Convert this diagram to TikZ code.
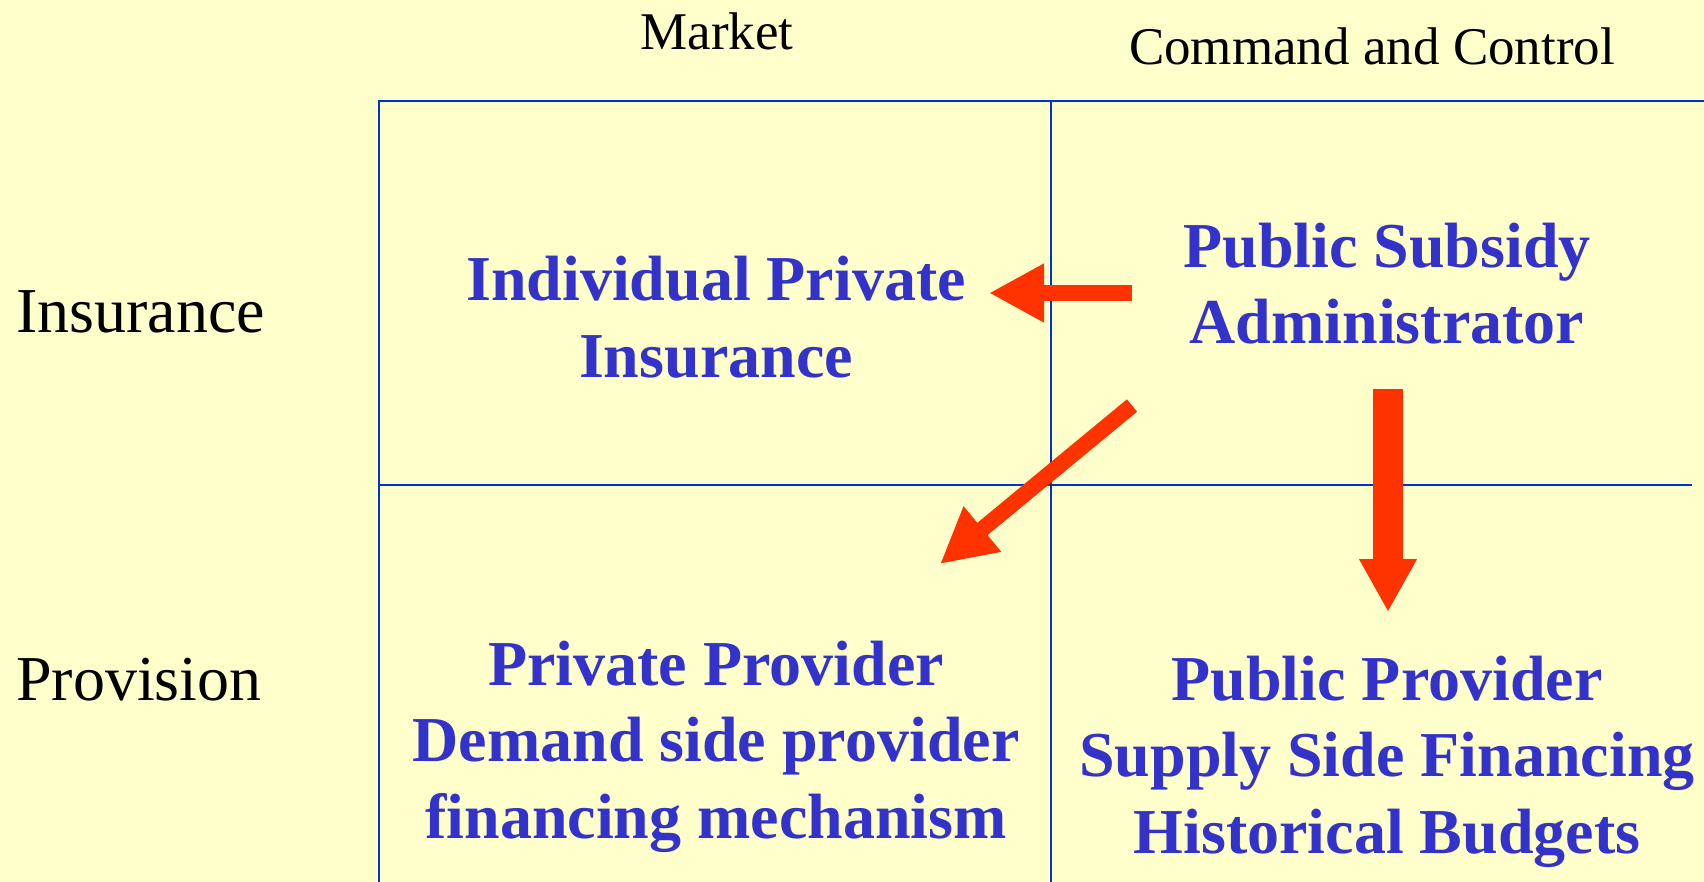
\documentclass[tikz,border=0pt]{standalone}
\usepackage{fontspec}
\setmainfont{Liberation Serif}
\usetikzlibrary{arrows.meta}
\definecolor{paper}{HTML}{FFFFCC}
\definecolor{gridblue}{HTML}{0033CC}
\definecolor{cellblue}{HTML}{3333CC}
\definecolor{arrowred}{HTML}{FF3300}
\begin{document}
\begin{tikzpicture}[x=1pt,y=-1pt,
  gridline/.style={draw=gridblue,line width=2.8pt},
  header/.style={font=\fontsize{53}{63}\selectfont,inner sep=0pt,anchor=base},
  rowlabel/.style={font=\fontsize{64}{76}\selectfont,inner sep=0pt,anchor=base west},
  cell/.style={font=\fontsize{64}{76.5}\selectfont\bfseries,text=cellblue,
    align=center,inner sep=0pt,anchor=base},
  flow/.style={draw=arrowred,line width=#1,
    -{Triangle[length=55pt,width=55pt,fill=arrowred]}},
]
\useasboundingbox (0,0) rectangle (1704,882);
\fill[paper] (0,0) rectangle (1704,882);

% matrix frame
\draw[gridline] (379,882) -- (379,101) -- (1704,101);
\draw[gridline] (1051,101) -- (1051,882);
\draw[gridline] (379,485) -- (1692,485);

% column and row headings
\node[header] (market) at (717,50) {Market};
\node[header] (command) at (1372,65) {Command and Control};
\node[rowlabel] (insurance) at (16,332) {Insurance};
\node[rowlabel] (provision) at (16,700) {Provision};

% cell contents (base anchor sits on the last line)
\node[cell] (indiv) at (716,377) {Individual Private\\Insurance};
\node[cell] (subsidy) at (1387,344) {Public Subsidy\\Administrator};
\node[cell] (privprov) at (716,838) {Private Provider\\Demand side provider\\financing mechanism};
\node[cell] (pubprov) at (1387,853) {Public Provider\\Supply Side Financing\\Historical Budgets};

% arrow end points
\coordinate (left-s) at (1132,293);
\coordinate (left-e) at (989,293);
\coordinate (diag-s) at (1132,405.5);
\coordinate (diag-e) at (940,564);
\coordinate (down-s) at (1388,389);
\coordinate (down-e) at (1388,612);

\draw[flow=16pt] (left-s) -- (left-e);
\draw[flow=16pt] (diag-s) -- (diag-e);
\draw[flow=30pt,-{Triangle[length=53pt,width=54pt,fill=arrowred]}] (down-s) -- (down-e);
\end{tikzpicture}
\end{document}
